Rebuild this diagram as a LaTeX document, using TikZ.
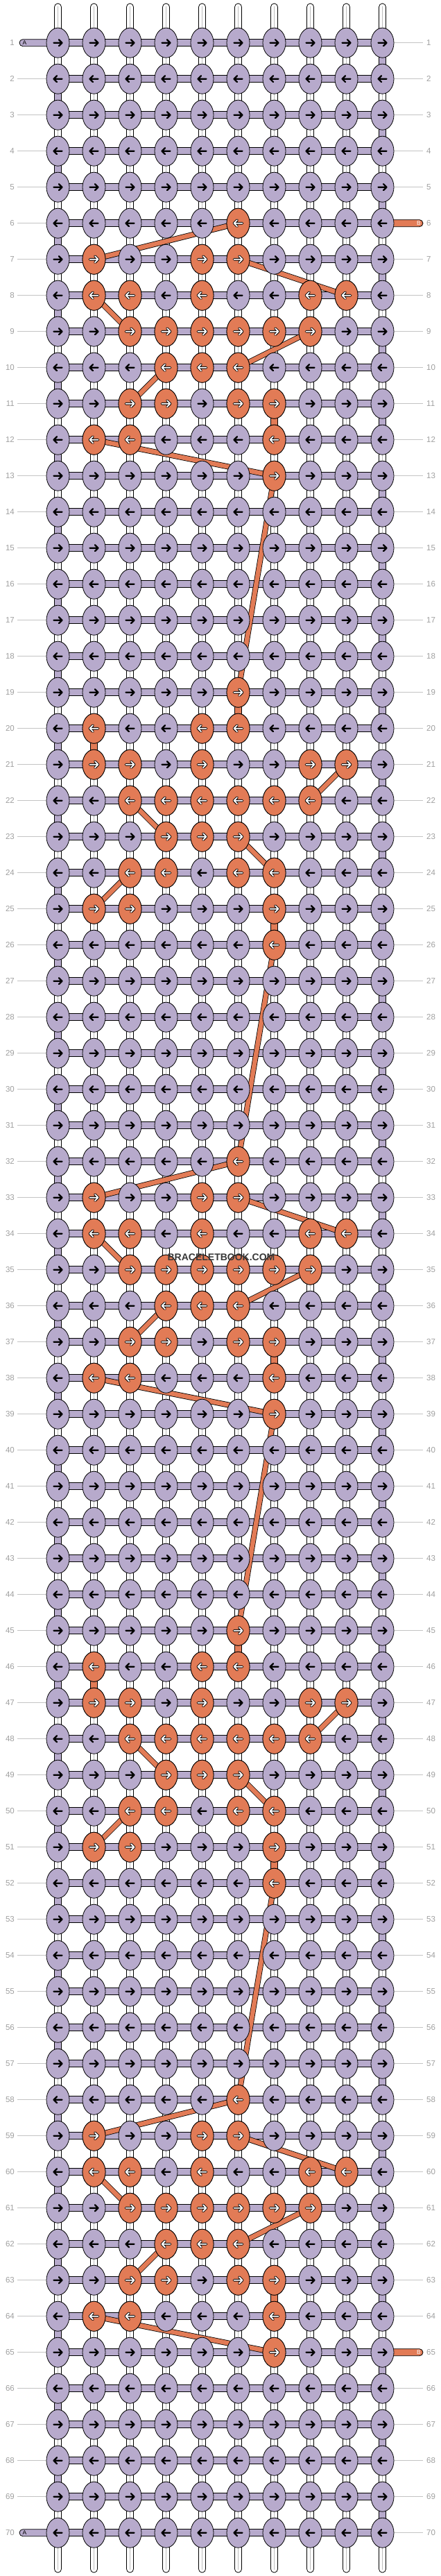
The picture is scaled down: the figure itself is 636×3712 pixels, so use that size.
\documentclass[tikz,border=0pt]{standalone}
\usepackage{fontspec}
\setmainfont{Liberation Sans}
\usetikzlibrary{shapes.geometric}
\pgfdeclarelayer{bg}
\pgfdeclarelayer{mid}
\pgfsetlayers{bg,mid,main}
\definecolor{purp}{HTML}{B7AACC}
\definecolor{bcol}{HTML}{E27B56}
\definecolor{lblgray}{HTML}{A0A0A0}
\definecolor{linegray}{HTML}{C4C4C4}
\definecolor{strgray}{HTML}{BDBDBD}
\tikzset{
  knot/.style={ellipse, draw=black, line width=0.8pt, minimum width=33pt, minimum height=43pt, inner sep=0pt},
  pknot/.style={knot, fill=purp},
  oknot/.style={knot, fill=bcol},
  lbl/.style={font=\fontsize{11.5}{12}\selectfont, text=lblgray, inner sep=0pt},
  gline/.style={draw=linegray, line width=0.8pt},
  vstr/.style={draw=black, fill=white, line width=0.8pt},
  hstr/.style={draw=black, fill=purp, line width=0.8pt},
  turnseg/.style={draw=black, fill=purp, line width=0.8pt},
  bline/.style={draw=black, line width=0.8pt, double=bcol, double distance=6.5pt},
  bvert/.style={draw=black, line width=0.8pt, double=bcol, double distance=8.6pt},
  arr/.style={line width=2.2pt, line cap=round, line join=round},
  endlbl/.style={font=\fontsize{8.5}{9}\selectfont, inner sep=0pt},
  wmark/.style={font=\bfseries\fontsize{14}{15}\selectfont, text=black!78, inner sep=0pt}
}
\newcommand\karrow[4]{%
  \draw[arr,#4] ({#1-6*(#3)},#2) -- ({#1+6*(#3)},#2)
    ({#1+1.5*(#3)},{#2-4.5}) -- ({#1+6*(#3)},#2) -- ({#1+1.5*(#3)},{#2+4.5});}
\begin{document}
\begin{tikzpicture}[x=1pt,y=-1pt]
\useasboundingbox (0,0) rectangle (636,3712);
% purple knots and row labels
\foreach \r in {1,...,70}{
  \pgfmathsetmacro\y{61.7+52*(\r-1)}
  \pgfmathtruncatemacro\d{ifthenelse(mod(\r,2)==1,1,-1)}
  \foreach \c in {1,...,10}{
    \pgfmathsetmacro\x{83.5+52*(\c-1)}
    \node[pknot] (k-\r-\c) at (\x,\y) {};
    \karrow{\x}{\y}{\d}{black}
  }
  \node[lbl, anchor=east] (ll-\r) at (21,\y) {\r};
  \node[lbl, anchor=west] (lr-\r) at (615,\y) {\r};
}
% orange knots
\foreach \R in {6,19,32,45,58}{
  \foreach \o/\cs in {0/{6},1/{2,5,6},2/{2,3,5,8,9},3/{3,4,5,6,7,8},4/{4,5,6},5/{3,4,6,7},6/{2,3,7},7/{7}}{
    \pgfmathtruncatemacro\r{\R+\o}
    \pgfmathsetmacro\y{61.7+52*(\r-1)}
    \pgfmathtruncatemacro\d{ifthenelse(mod(\r,2)==1,1,-1)}
    \foreach \c in \cs {
      \pgfmathsetmacro\x{83.5+52*(\c-1)}
      \node[oknot] (k-\r-\c) at (\x,\y) {};
      \karrow{\x}{\y}{\d}{black,line width=3.6pt}
      \karrow{\x}{\y}{\d}{white,line width=1.8pt}
    }
  }
}
% end labels
\node[endlbl, text=black] (lblA1) at (35.5,61.7) {A};
\node[endlbl, text=black] (lblA70) at (35.5,3649.7) {A};
\node[endlbl, text=white] (lblB6) at (604,321.7) {B};
\node[endlbl, text=white] (lblB65) at (604,3389.7) {B};
% watermark
\node[wmark] (wm) at (319,1812) {BRACELETBOOK.COM};

\begin{pgfonlayer}{bg}
  \fill[white] (0,0) rectangle (636,3712);
  % vertical strings
  \foreach \c in {1,...,10}{
    \pgfmathsetmacro\x{83.5+52*(\c-1)}
    \draw[vstr, rounded corners=5pt] (\x-5,5) rectangle (\x+5,3707);
    \draw[draw=strgray, line width=0.7pt] (\x,9) -- (\x,3703);
  }
  % rows: grey guide lines, horizontal strands, turns
  \foreach \r in {1,...,70}{
    \pgfmathsetmacro\y{61.7+52*(\r-1)}
    \ifnum\r=1 \else\ifnum\r=70 \else
      \draw[gline] ([xshift=4pt]ll-\r.east) -- (k-\r-1.center);
    \fi\fi
    \ifnum\r=6 \else\ifnum\r=65 \else
      \draw[gline] (k-\r-10.center) -- ([xshift=-5pt]lr-\r.west);
    \fi\fi
    \draw[hstr] (83.5,\y-5) rectangle (551.5,\y+5);
  }
  \foreach \r in {1,...,69}{
    \pgfmathsetmacro\y{61.7+52*(\r-1)}
    \pgfmathsetmacro\xt{ifthenelse(mod(\r,2)==1,551.5,83.5)}
    \draw[turnseg] (\xt-5,\y) rectangle (\xt+5,\y+52);
  }
  % A string ends
  \draw[hstr, rounded corners=5pt] (28,56.7) rectangle (95,66.7);
  \draw[hstr, rounded corners=5pt] (28,3644.7) rectangle (95,3654.7);
\end{pgfonlayer}

\begin{pgfonlayer}{mid}
  % B string ends
  \draw[draw=black, fill=bcol, line width=0.8pt, rounded corners=5pt] (540,316.7) rectangle (610,326.7);
  \draw[draw=black, fill=bcol, line width=0.8pt, rounded corners=5pt] (540,3384.7) rectangle (610,3394.7);
  % B carried between rows
  \foreach \ra/\ca/\rb/\cb in {6/6/7/2, 7/6/8/9, 8/2/9/3, 9/8/10/6, 10/4/11/3, 12/2/13/7, 13/7/19/6,
      21/9/22/8, 22/3/23/4, 23/6/24/7, 24/3/25/2, 26/7/32/6,
      32/6/33/2, 33/6/34/9, 34/2/35/3, 35/8/36/6, 36/4/37/3, 38/2/39/7, 39/7/45/6,
      47/9/48/8, 48/3/49/4, 49/6/50/7, 50/3/51/2, 52/7/58/6,
      58/6/59/2, 59/6/60/9, 60/2/61/3, 61/8/62/6, 62/4/63/3, 64/2/65/7}{
    \draw[bline] (k-\ra-\ca.center) -- (k-\rb-\cb.center);
  }
  \foreach \ra/\ca/\rb/\cb in {11/7/12/7, 19/6/20/6, 20/2/21/2, 25/7/26/7, 37/7/38/7,
      45/6/46/6, 46/2/47/2, 51/7/52/7, 63/7/64/7}{
    \draw[bvert] (k-\ra-\ca.center) -- (k-\rb-\cb.center);
  }
\end{pgfonlayer}
\end{tikzpicture}
\end{document}
